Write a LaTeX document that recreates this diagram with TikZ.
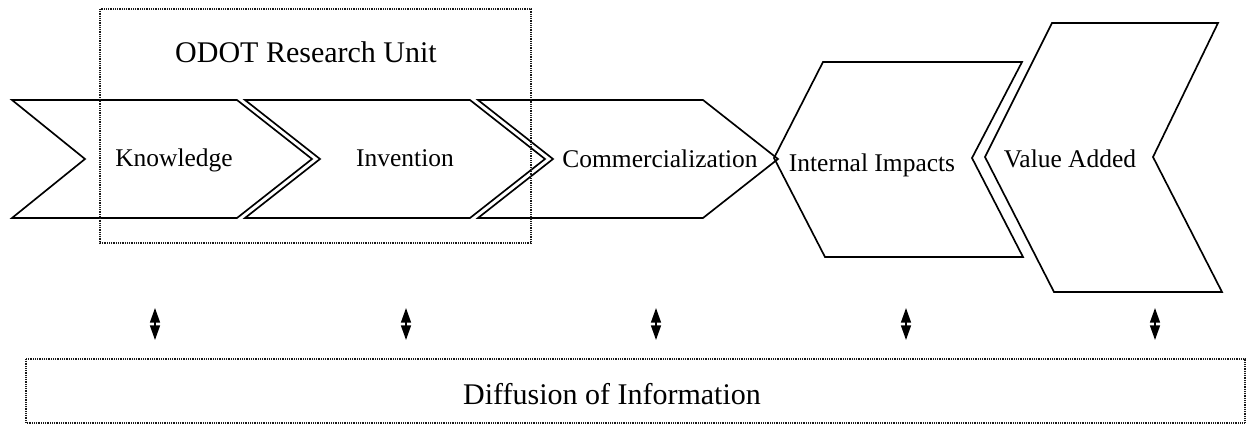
\documentclass[tikz,border=0pt]{standalone}
\usepackage{fontspec}
\setmainfont{Liberation Serif}
\usetikzlibrary{arrows.meta}
\begin{document}
\begin{tikzpicture}[x=0.75pt,y=-0.75pt,
  chev/.style={draw=black,line width=1.25pt,line join=miter},
  unitbox/.style={draw=black!90,line width=0.9pt,dash pattern=on 0.75pt off 0.6pt},
  lbl/.style={anchor=base,inner sep=0pt,font=\fontsize{19.1}{23}\selectfont},
  biglbl/.style={anchor=base,inner sep=0pt,font=\fontsize{22.5}{27}\selectfont},
  link/.style={line width=1.1pt,{Triangle[length=11pt,width=7.5pt]}-{Triangle[length=11pt,width=7.5pt]}}]
\useasboundingbox (0,0) rectangle (1246,424);

% process chevrons
\draw[chev] (12,100) -- (237,100) -- (312,159) -- (237,218) -- (12,218) -- (85,159) -- cycle;
\draw[chev] (245,100) -- (470,100) -- (545,159) -- (470,218) -- (245,218) -- (320,159) -- cycle;
\draw[chev] (478,100) -- (703,100) -- (778,159) -- (703,218) -- (478,218) -- (553,159) -- cycle;
\draw[chev] (823,62) -- (1022,62) -- (972,158) -- (1023,257) -- (825,257) -- (774,158) -- cycle;
\draw[chev] (1052,23) -- (1218,23) -- (1153,157) -- (1222,292) -- (1054,292) -- (985,157) -- cycle;

\node[lbl] (know) at (174,167) {Knowledge};
\node[lbl] (inv) at (405,167) {Invention};
\node[lbl] (comm) at (660,168) {Commercialization};
\node[lbl] (intimp) at (872,172) {Internal Impacts};
\node[lbl] (value) at (1070,168) {Value Added};

% research unit boundary
\draw[unitbox] (100,9) rectangle (531,243);
\node[biglbl] (odot) at (306,63) {ODOT Research Unit};

% information diffusion band
\draw[unitbox] (26,359) rectangle (1245,423);
\node[biglbl] (diff) at (612,404) {Diffusion of Information};

% two-way links
\foreach \i/\xx in {1/155,2/406,3/656,4/906,5/1155}{
  \coordinate (t\i) at (\xx,308);
  \coordinate (b\i) at (\xx,340);
  \draw[link] (t\i) -- (b\i);
}
\end{tikzpicture}
\end{document}
